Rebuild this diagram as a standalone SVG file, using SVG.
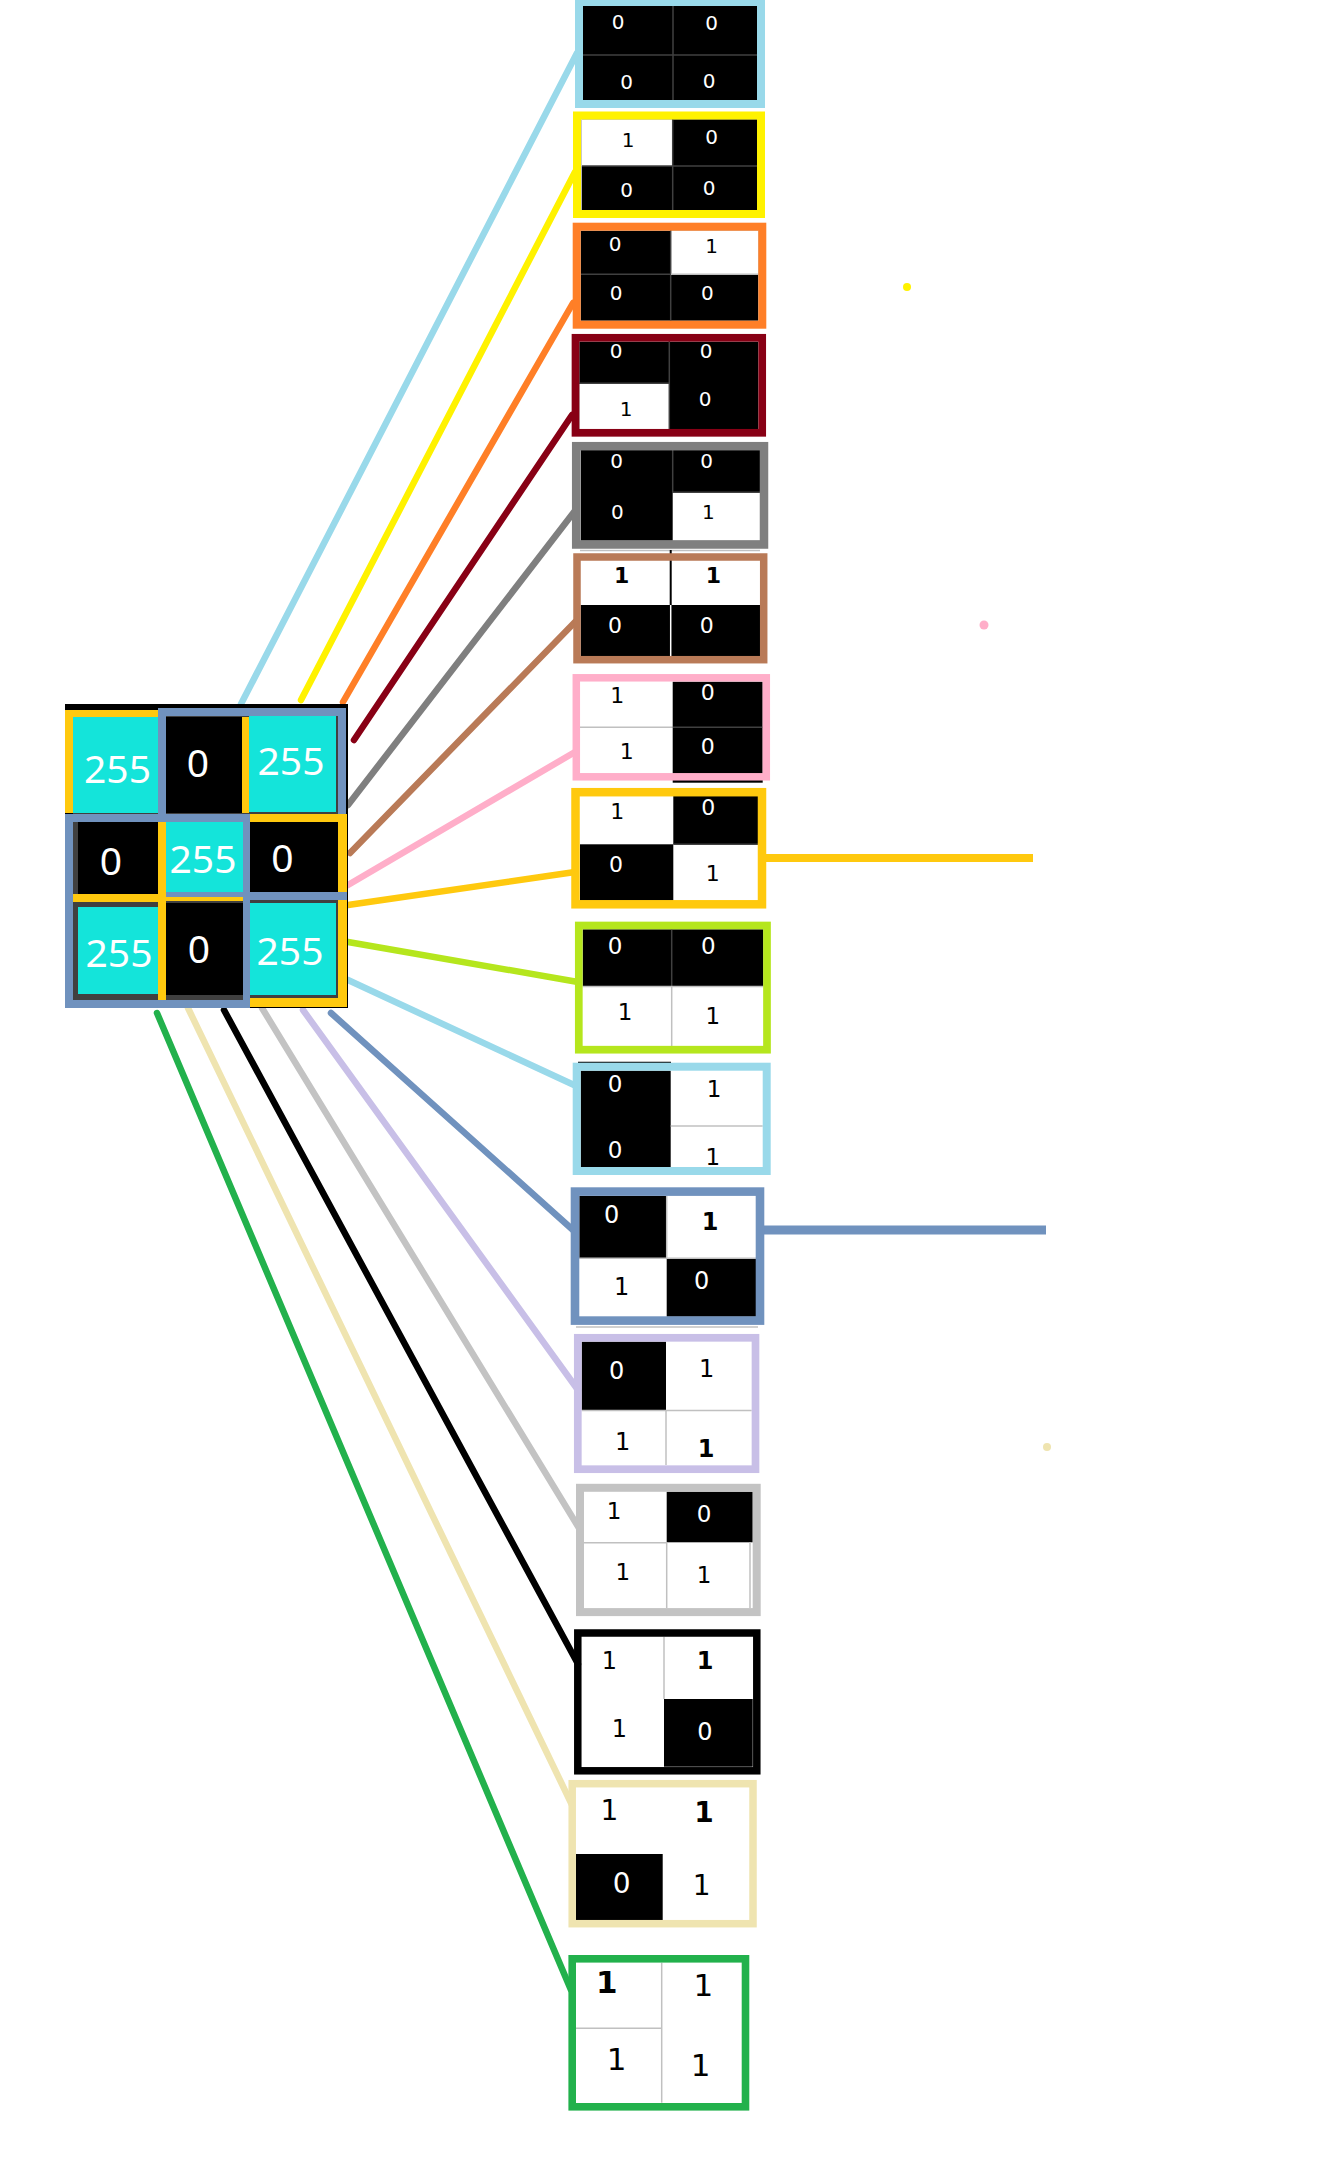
<svg xmlns="http://www.w3.org/2000/svg" width="1332" height="2167" viewBox="0 0 1332 2167">
<style>
.g{font-family:"Noto Sans","Open Sans","Liberation Sans",sans-serif;font-size:39px;fill:#fff;text-anchor:middle}
.d{font-family:"DejaVu Sans","Liberation Sans",sans-serif;text-anchor:middle}
.w{fill:#fff}
.k{fill:#000}
.b{font-weight:bold}
.dv{stroke:#404040;stroke-width:1.5}
.lg{stroke:#c0c0c0;stroke-width:1.5}
.frame{fill:none}
.cn{fill:none;stroke-width:6.5;stroke-linecap:round}
</style>
<rect width="1332" height="2167" fill="#fff"/>

<g id="connectors">
<line class="cn" stroke="#99D9EA" x1="241" y1="704" x2="577" y2="53"/>
<line class="cn" stroke="#FFF200" x1="301" y1="700" x2="575" y2="172"/>
<line class="cn" stroke="#FF7F27" x1="343" y1="702" x2="573" y2="303"/>
<line class="cn" stroke="#880015" x1="354" y1="740" x2="572" y2="415"/>
<line class="cn" stroke="#7F7F7F" x1="348" y1="805" x2="574" y2="512"/>
<line class="cn" stroke="#B97A57" x1="350" y1="853" x2="575" y2="622"/>
<line class="cn" stroke="#FFAEC9" x1="348" y1="885" x2="575" y2="752"/>
<line class="cn" stroke="#FFC90E" x1="348" y1="905" x2="575" y2="872"/>
<line class="cn" stroke="#B5E61D" x1="348" y1="942" x2="578" y2="982"/>
<line class="cn" stroke="#99D9EA" x1="348" y1="980" x2="574" y2="1085"/>
<line class="cn" stroke="#7092BE" x1="331" y1="1013" x2="573" y2="1230"/>
<line class="cn" stroke="#C8BFE7" x1="303" y1="1010" x2="578" y2="1390"/>
<line class="cn" stroke="#C3C3C3" x1="262" y1="1008" x2="582" y2="1533"/>
<line class="cn" stroke="#000000" x1="224" y1="1010" x2="578" y2="1664"/>
<line class="cn" stroke="#EFE4B0" x1="188" y1="1008" x2="572" y2="1805"/>
<line class="cn" stroke="#22B14C" x1="157" y1="1013" x2="571" y2="1990"/>
<line stroke="#FFC90E" stroke-width="8" x1="766" y1="858" x2="1033" y2="858"/>
<line stroke="#7092BE" stroke-width="9" x1="764" y1="1230" x2="1046" y2="1230"/>
</g>

<g id="dots">
<circle cx="907" cy="287" r="4" fill="#FFF200"/>
<circle cx="984" cy="625" r="4.5" fill="#FFAEC9"/>
<circle cx="1047" cy="1447" r="4" fill="#EFE4B0"/>
</g>

<g id="grid">
<rect x="65" y="704" width="283" height="304" fill="#000"/>
<rect x="73" y="714" width="267" height="286" fill="#404040"/>
<rect x="73" y="717" width="85" height="96" fill="#14E4DA"/>
<rect x="166" y="717" width="77" height="96" fill="#000"/>
<rect x="249" y="716" width="87" height="96" fill="#14E4DA"/>
<rect x="78" y="822" width="80" height="72" fill="#000"/>
<rect x="166" y="822" width="77" height="70" fill="#14E4DA"/>
<rect x="249" y="822" width="89" height="70" fill="#000"/>
<rect x="78" y="907" width="80" height="87" fill="#14E4DA"/>
<rect x="166" y="903" width="77" height="92" fill="#000"/>
<rect x="249" y="903" width="87" height="92" fill="#14E4DA"/>
<g fill="#FFC90E">
<rect x="65" y="710" width="8" height="103"/>
<rect x="65" y="710" width="93" height="7"/>
<rect x="242" y="717" width="7" height="96"/>
<rect x="158" y="822" width="8" height="178"/>
<rect x="73" y="894" width="87" height="8"/>
<rect x="166" y="897" width="77" height="4"/>
<rect x="249" y="814" width="98" height="8"/>
<rect x="338" y="814" width="9" height="193"/>
<rect x="249" y="998" width="98" height="9"/>
</g>
<g fill="#7092BE">
<rect x="158" y="708" width="188" height="8"/>
<rect x="158" y="708" width="8" height="114"/>
<rect x="338" y="708" width="8" height="106"/>
<rect x="65" y="814" width="185" height="8"/>
<rect x="65" y="814" width="8" height="194"/>
<rect x="243" y="814" width="7" height="194"/>
<rect x="65" y="1000" width="185" height="8"/>
<rect x="243" y="892" width="104" height="8"/>
<rect x="166" y="892" width="77" height="5"/>
</g>
<text class="g" x="117.5" y="783">255</text>
<text class="g" x="198" y="777">0</text>
<text class="g" x="291" y="775">255</text>
<text class="g" x="111" y="875">0</text>
<text class="g" x="203" y="873">255</text>
<text class="g" x="282.5" y="871.5">0</text>
<text class="g" x="119" y="966.5">255</text>
<text class="g" x="199" y="962.5">0</text>
<text class="g" x="290" y="965">255</text>
</g>

<g id="box1" font-size="20">
<rect x="583" y="6" width="174" height="94" fill="#000"/>
<line class="dv" x1="673" y1="6" x2="673" y2="100"/>
<line class="dv" x1="583" y1="55" x2="757" y2="55"/>
<text class="d w" x="618" y="29">0</text>
<text class="d w" x="711.7" y="30">0</text>
<text class="d w" x="626.7" y="89">0</text>
<text class="d w" x="709" y="88">0</text>
<rect class="frame" x="579" y="2" width="182" height="102" stroke="#99D9EA" stroke-width="8"/>
</g>

<g id="box2" font-size="20">
<rect x="581.7" y="119.3" width="175.6" height="90.7" fill="#000"/>
<rect x="581.7" y="119.3" width="91" height="46.7" fill="#fff"/>
<line class="dv" x1="672.7" y1="119" x2="672.7" y2="210"/>
<line class="dv" x1="582" y1="166" x2="757" y2="166"/>
<text class="d k" x="628" y="147">1</text>
<text class="d w" x="711.7" y="144">0</text>
<text class="d w" x="626.7" y="196.5">0</text>
<text class="d w" x="709" y="195">0</text>
<rect class="frame" x="577" y="115.5" width="184" height="98.5" stroke="#FFF200" stroke-width="8"/>
</g>

<g id="box3" font-size="20">
<rect x="580.7" y="230.7" width="177.6" height="90" fill="#000"/>
<rect x="670.7" y="230.7" width="87.6" height="43.6" fill="#fff"/>
<line class="dv" x1="670.7" y1="230" x2="670.7" y2="321"/>
<line class="dv" x1="581" y1="274.3" x2="671" y2="274.3"/>
<line class="lg" x1="671" y1="274.3" x2="758" y2="274.3"/>
<text class="d w" x="615" y="250.5">0</text>
<text class="d k" x="711.7" y="253">1</text>
<text class="d w" x="616" y="300">0</text>
<text class="d w" x="707.3" y="300">0</text>
<rect class="frame" x="576.7" y="226.7" width="185.6" height="98" stroke="#FF7F27" stroke-width="8"/>
</g>

<g id="box4" font-size="20">
<rect x="579.3" y="341.7" width="179" height="87.3" fill="#000"/>
<rect x="579.3" y="383.3" width="90" height="45.7" fill="#fff"/>
<line class="dv" x1="669.3" y1="341" x2="669.3" y2="429"/>
<line class="dv" x1="579" y1="383.3" x2="669" y2="383.3"/>
<text class="d w" x="616" y="358">0</text>
<text class="d w" x="706" y="358">0</text>
<text class="d k" x="626" y="415.5">1</text>
<text class="d w" x="705" y="405.5">0</text>
<rect class="frame" x="575.5" y="337.8" width="186.7" height="95" stroke="#880015" stroke-width="7.7"/>
</g>

<g id="box5" font-size="20">
<rect x="580.7" y="450" width="179.3" height="90.7" fill="#000"/>
<rect x="672.7" y="492.3" width="87.3" height="48.4" fill="#fff"/>
<line class="dv" x1="672.7" y1="450" x2="672.7" y2="492"/>
<line class="dv" x1="673" y1="492.3" x2="760" y2="492.3"/>
<text class="d w" x="616.7" y="468">0</text>
<text class="d w" x="706.7" y="468">0</text>
<text class="d w" x="617.3" y="519">0</text>
<text class="d k" x="708.3" y="519">1</text>
<rect class="frame" x="576.2" y="446.2" width="187.8" height="98.3" stroke="#7F7F7F" stroke-width="8.5"/>
</g>

<g id="box6" font-size="22">
<line class="lg" x1="580" y1="550.5" x2="760" y2="550.5"/>
<rect x="580.7" y="560.7" width="179.3" height="95.3" fill="#fff"/>
<rect x="580.7" y="605" width="179.3" height="51" fill="#000"/>
<line stroke="#000" stroke-width="2" x1="670.7" y1="550" x2="670.7" y2="605"/>
<line stroke="#fff" stroke-width="1.5" x1="670.7" y1="605" x2="670.7" y2="656"/>
<text class="d k b" x="621.7" y="583">1</text>
<text class="d k b" x="713.3" y="583">1</text>
<text class="d w" x="615" y="633">0</text>
<text class="d w" x="706.7" y="633">0</text>
<rect class="frame" x="577" y="557" width="186.7" height="102.7" stroke="#B97A57" stroke-width="7.5"/>
</g>

<g id="box7" font-size="22">
<rect x="580" y="681.7" width="92.7" height="91" fill="#fff"/>
<rect x="672.7" y="681.7" width="90" height="101" fill="#000"/>
<line class="lg" x1="580" y1="727.3" x2="672.7" y2="727.3"/>
<line class="dv" x1="672.7" y1="727.3" x2="762.7" y2="727.3"/>
<text class="d k" x="617.3" y="703">1</text>
<text class="d k" x="626.7" y="758.7">1</text>
<text class="d w" x="707.7" y="699.7">0</text>
<text class="d w" x="707.7" y="754">0</text>
<rect class="frame" x="576.3" y="677.8" width="190" height="99" stroke="#FFAEC9" stroke-width="7.5"/>
</g>

<g id="box8" font-size="22">
<rect x="580" y="796" width="178.3" height="104.7" fill="#fff"/>
<rect x="673.3" y="796" width="85" height="48.3" fill="#000"/>
<rect x="580" y="844.3" width="93.3" height="56.4" fill="#000"/>
<line class="dv" x1="673.3" y1="844.3" x2="758.3" y2="844.3"/>
<text class="d k" x="617.3" y="818.7">1</text>
<text class="d w" x="708.3" y="815.3">0</text>
<text class="d w" x="616" y="872">0</text>
<text class="d k" x="712.7" y="880.7">1</text>
<rect class="frame" x="575.5" y="792.2" width="186.5" height="112.1" stroke="#FFC90E" stroke-width="8.5"/>
</g>

<g id="box9" font-size="23">
<rect x="582.7" y="929.3" width="180.6" height="116.7" fill="#fff"/>
<rect x="582.7" y="929.3" width="180.6" height="56.7" fill="#000"/>
<line class="dv" x1="671.7" y1="929.3" x2="671.7" y2="986"/>
<line class="lg" x1="671.7" y1="986" x2="671.7" y2="1046"/>
<line class="lg" x1="582.7" y1="986.5" x2="763.3" y2="986.5"/>
<text class="d w" x="615" y="954.3">0</text>
<text class="d w" x="708.3" y="954.3">0</text>
<text class="d k" x="625" y="1020">1</text>
<text class="d k" x="712.7" y="1024.3">1</text>
<rect class="frame" x="578.8" y="925.5" width="188.2" height="124.2" stroke="#B5E61D" stroke-width="7.7"/>
</g>

<g id="box10" font-size="23">
<line stroke="#000" stroke-width="1.5" x1="578" y1="1062.5" x2="671" y2="1062.5"/>
<rect x="580.7" y="1070.7" width="182" height="96.6" fill="#fff"/>
<rect x="580.7" y="1070.7" width="90" height="96.6" fill="#000"/>
<line class="lg" x1="670.7" y1="1126" x2="762.7" y2="1126"/>
<text class="d w" x="615" y="1091.6">0</text>
<text class="d w" x="615" y="1157.6">0</text>
<text class="d k" x="714" y="1096.6">1</text>
<text class="d k" x="712.7" y="1165.3">1</text>
<rect class="frame" x="576.7" y="1066.7" width="190" height="104.3" stroke="#99D9EA" stroke-width="8"/>
</g>

<g id="box11" font-size="24">
<line class="lg" x1="576" y1="1327" x2="758" y2="1327"/>
<rect x="579.3" y="1196" width="176.7" height="120.7" fill="#fff"/>
<rect x="579.3" y="1196" width="87.4" height="62.3" fill="#000"/>
<rect x="666.7" y="1258.3" width="89.3" height="58.4" fill="#000"/>
<line class="lg" x1="666.7" y1="1196" x2="666.7" y2="1258"/>
<line class="lg" x1="579.3" y1="1258.3" x2="666.7" y2="1258.3"/>
<line class="lg" x1="666.7" y1="1258.3" x2="756" y2="1258.3"/>
<text class="d w" x="611.7" y="1222.6">0</text>
<text class="d k b" x="710" y="1230.3">1</text>
<text class="d k" x="621.7" y="1294.6">1</text>
<text class="d w" x="701.7" y="1288.6">0</text>
<rect class="frame" x="575" y="1191.6" width="185" height="129" stroke="#7092BE" stroke-width="8.6"/>
</g>

<g id="box12" font-size="24">
<rect x="581.7" y="1341.7" width="170" height="123.3" fill="#fff"/>
<rect x="581.7" y="1341.7" width="84.3" height="68.3" fill="#000"/>
<line class="lg" x1="666" y1="1410" x2="666" y2="1465"/>
<line class="lg" x1="581.7" y1="1410.5" x2="751.7" y2="1410.5"/>
<text class="d w" x="616.7" y="1378.6">0</text>
<text class="d k" x="706.7" y="1376.9">1</text>
<text class="d k" x="622.7" y="1450.3">1</text>
<text class="d k b" x="706" y="1456.9">1</text>
<rect class="frame" x="577.8" y="1337.8" width="177.7" height="131.4" stroke="#C8BFE7" stroke-width="7.7"/>
</g>

<g id="box13" font-size="23">
<rect x="584" y="1491.7" width="168.7" height="116.6" fill="#fff"/>
<rect x="666.7" y="1491.7" width="86" height="50.6" fill="#000"/>
<line class="lg" x1="666.7" y1="1542" x2="666.7" y2="1608"/>
<line class="lg" x1="584" y1="1542.8" x2="666.7" y2="1542.8"/>
<line class="lg" x1="750" y1="1542" x2="750" y2="1608"/>
<text class="d k" x="614" y="1519">1</text>
<text class="d w" x="704" y="1521.6">0</text>
<text class="d k" x="622.7" y="1580">1</text>
<text class="d k" x="704" y="1583.3">1</text>
<rect class="frame" x="580" y="1487.8" width="176.7" height="124.3" stroke="#C3C3C3" stroke-width="8"/>
</g>

<g id="box14" font-size="24">
<rect x="581.7" y="1636.7" width="171" height="130" fill="#fff"/>
<rect x="664" y="1699" width="88.7" height="67.7" fill="#000"/>
<line class="lg" x1="664" y1="1636.7" x2="664" y2="1699"/>
<text class="d k" x="609.3" y="1668.6">1</text>
<text class="d k b" x="705" y="1668.6">1</text>
<text class="d k" x="619.3" y="1736.9">1</text>
<text class="d w" x="705" y="1740.3">0</text>
<rect class="frame" x="577.8" y="1633" width="179" height="137.8" stroke="#000" stroke-width="7.5"/>
</g>

<g id="box15" font-size="28">
<rect x="576" y="1787.3" width="173.3" height="132.7" fill="#fff"/>
<rect x="576" y="1854" width="86.7" height="66" fill="#000"/>
<text class="d k" x="609.3" y="1820">1</text>
<text class="d k b" x="704" y="1821.7">1</text>
<text class="d w" x="621.7" y="1893.3">0</text>
<text class="d k" x="701.7" y="1895">1</text>
<rect class="frame" x="572.2" y="1783.7" width="180.8" height="140" stroke="#EFE4B0" stroke-width="7.5"/>
</g>

<g id="box16" font-size="31">
<rect x="576" y="1962.7" width="165.7" height="140" fill="#fff"/>
<line class="lg" x1="661.7" y1="1962.7" x2="661.7" y2="2102.7"/>
<line class="lg" x1="576" y1="2028.3" x2="661.7" y2="2028.3"/>
<text class="d k b" x="606.7" y="1992.9">1</text>
<text class="d k" x="703.3" y="1996.2">1</text>
<text class="d k" x="616.7" y="2069.5">1</text>
<text class="d k" x="700.7" y="2076.2">1</text>
<rect class="frame" x="572.2" y="1958.8" width="173.3" height="148" stroke="#22B14C" stroke-width="7.6"/>
</g>
</svg>
